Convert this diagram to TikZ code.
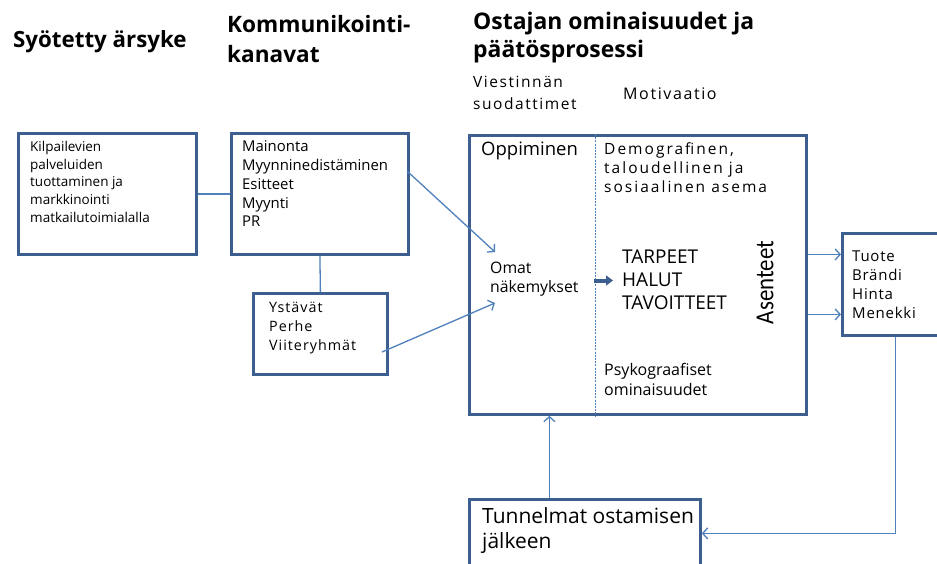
\documentclass[tikz,border=0pt]{standalone}
\usepackage{fontspec}
\setmainfont{Open Sans}
\newfontfamily\carl{Carlito}
\newfontfamily\spA[LetterSpace=7]{Open Sans}
\newfontfamily\spB[LetterSpace=10]{Open Sans}
\newfontfamily\spC[LetterSpace=13]{Open Sans}
\newfontfamily\spD[LetterSpace=5]{Open Sans}
\usetikzlibrary{arrows.meta}
\definecolor{boxblue}{RGB}{60,95,143}
\definecolor{linkblue}{RGB}{79,129,189}
\begin{document}
\begin{tikzpicture}[x=1pt,y=-1pt,
  box/.style={draw=boxblue, line width=2.8pt, inner sep=0pt, anchor=north west},
  conn/.style={draw=linkblue, line width=1.3pt},
  arr/.style={-{Straight Barb[length=5pt,width=11pt]}},
  txt/.style={anchor=north west, inner sep=0pt, align=left, text=black},
  fsz/.style 2 args={font=\fontsize{#1}{#2}\selectfont},
  title/.style={txt, font=\fontsize{22.3}{29}\selectfont\bfseries}]
\useasboundingbox (0,0) rectangle (937,563);
\clip (0,0) rectangle (937,563);
\fill[white] (0,0) rectangle (937,563);

% titles
\node[title] (t1) at (13,30) {Syötetty ärsyke};
\node[title, font=\fontsize{22.6}{30}\selectfont\bfseries] (t2) at (227,14.8) {Kommunikointi-\\kanavat};
\node[title, font=\fontsize{22.9}{28}\selectfont\bfseries] (t3) at (473,11.6) {Ostajan ominaisuudet ja\\päätösprosessi};
\node[txt, font=\spB\fontsize{15.5}{22}\selectfont] (t4) at (473,76.2) {Viestinnän\\suodattimet};
\node[txt, font=\spB\fontsize{16}{22}\selectfont] (t5) at (623,87.8) {Motivaatio};

% boxes
\node[box, minimum width=178pt, minimum height=121pt] (kil) at (17,132) {};
\node[box, minimum width=177pt, minimum height=121pt] (mai) at (230,132) {};
\node[box, minimum width=134pt, minimum height=81pt] (yst) at (252,292) {};
\node[box, minimum width=337pt, minimum height=279pt] (big) at (468,134) {};
\node[box, minimum width=106pt, minimum height=102pt] (tuo) at (841,232) {};
\node[box, minimum width=231pt, minimum height=68pt] (tun) at (468,498) {};

% box texts
\node[txt, fsz={13.5}{17.7}] (kilt) at (30,141) {Kilpailevien\\palveluiden\\tuottaminen ja\\markkinointi\\matkailutoimialalla};
\node[txt, fsz={14.9}{18.75}] (mait) at (242,140.7) {Mainonta\\Myynninedistäminen\\Esitteet\\Myynti\\PR};
\node[txt, font=\spA\fontsize{14.3}{19}\selectfont] (ystt) at (269,302) {Ystävät\\Perhe\\Viiteryhmät};
\node[txt, fsz={18.5}{22}] (opp) at (481,141.9) {Oppiminen};
\node[txt, font=\spC\fontsize{15.5}{19}\selectfont] (dem) at (604,142.2) {Demografinen,\\taloudellinen ja\\sosiaalinen asema};
\node[txt, fsz={15.8}{18.7}] (oma) at (490,262) {Omat\\näkemykset};
\node[txt, fsz={19}{23}] (tar) at (622,249.4) {TARPEET\\HALUT\\TAVOITTEET};
\node[inner sep=0pt, rotate=90, font=\carl\fontsize{26}{30}\selectfont] (ase) at (765,282.5) {\scalebox{0.88}[1]{Asenteet}};
\node[txt, fsz={16}{20}] (psy) at (604,362.8) {Psykograafiset\\ominaisuudet};
\node[txt, font=\spD\fontsize{15}{19}\selectfont] (tuot) at (852,250.6) {Tuote\\Brändi\\Hinta\\Menekki};
\node[txt, fsz={21}{25}] (tunt) at (482,507) {Tunnelmat ostamisen\\jälkeen};

% divider inside big box
\draw[linkblue, line width=0.8pt, dash pattern=on 2pt off 1.2pt] ([xshift=-42.5pt]big.north) -- ([xshift=-42.5pt]big.south);

% thick arrow
\coordinate (ta1) at (594,280.5);
\coordinate (ta2) at (613,280.5);
\draw[boxblue, line width=4pt, -{Triangle[length=7pt,width=10pt]}] (ta1) -- (ta2);

% connectors
\draw[conn] (kil.east) -- (mai.west);
\draw[conn] (mai.south) -- (yst.north);
\coordinate (m1) at (407,171);
\coordinate (o1) at (495,252);
\draw[conn, arr] (m1) -- (o1);
\coordinate (y1) at (382,352);
\coordinate (o2) at (495,303);
\draw[conn, arr] (y1) -- (o2);
\draw[conn, arr] ([yshift=20.5pt]big.east) coordinate (b1) -- (b1 -| tuo.west);
\draw[conn, arr] ([yshift=-39.5pt]big.east) coordinate (b2) -- (b2 -| tuo.west);
\draw[conn, arr] (tuo.south) |- (tun.east);
\draw[conn, arr] ([xshift=-35.5pt]tun.north) coordinate (u1) -- (u1 |- big.south);
\end{tikzpicture}
\end{document}
